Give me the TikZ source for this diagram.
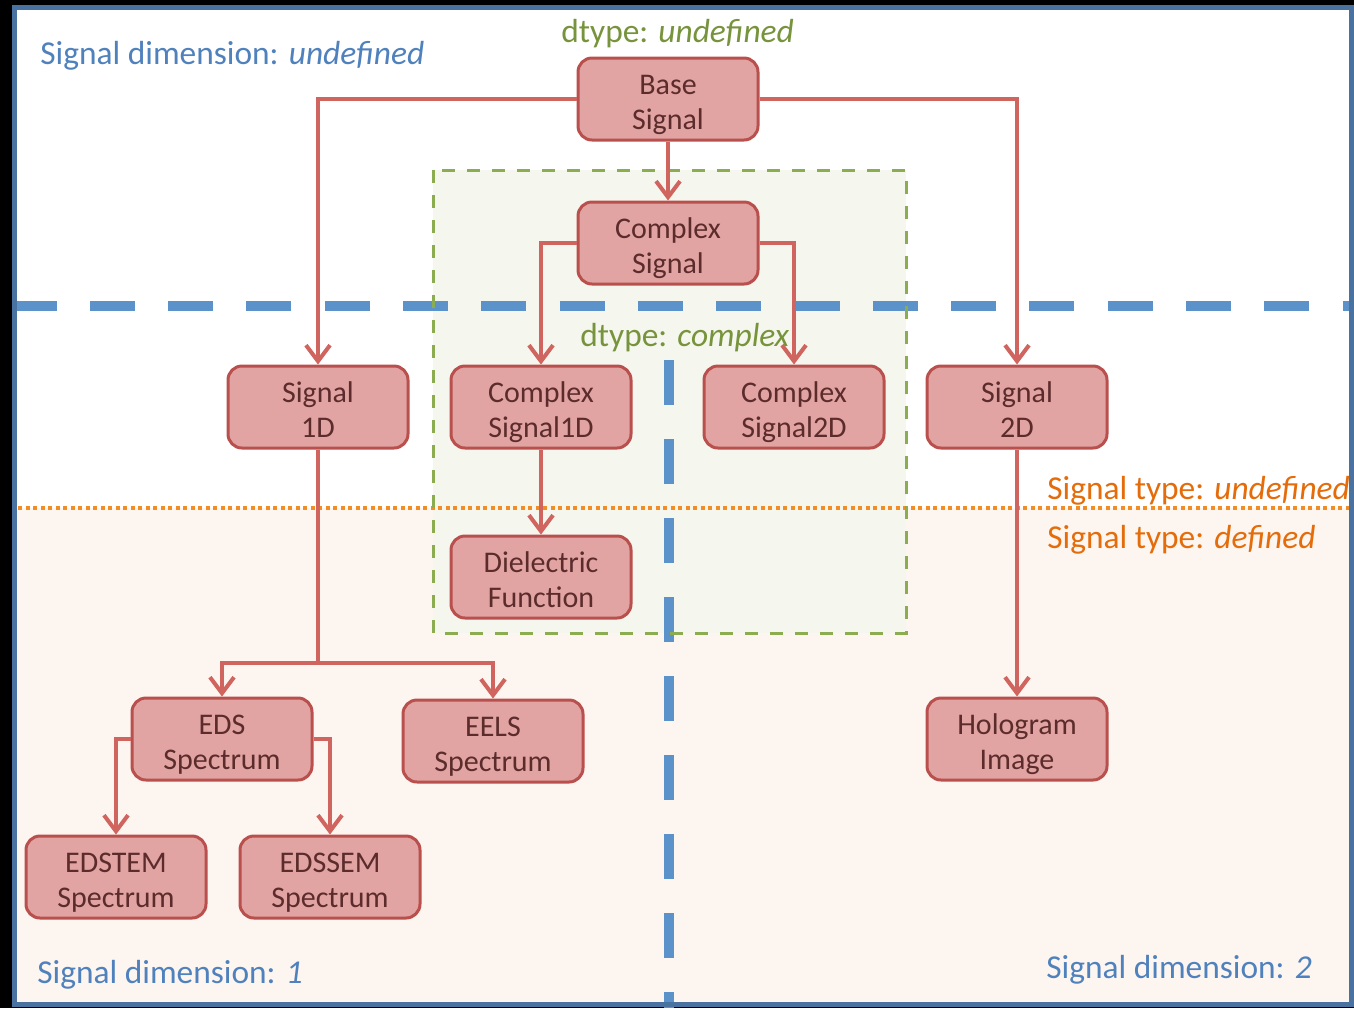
\documentclass[tikz,border=0pt]{standalone}
\usepackage{fontspec}
\setmainfont{Carlito}
\usetikzlibrary{arrows.meta}
\definecolor{frameblue}{RGB}{74,114,160}
\definecolor{dashblue}{RGB}{91,146,201}
\definecolor{dimblue}{RGB}{79,129,189}
\definecolor{dtgreen}{RGB}{119,147,60}
\definecolor{dtline}{RGB}{140,172,80}
\definecolor{dtfill}{RGB}{245,246,237}
\definecolor{peach}{RGB}{253,245,240}
\definecolor{typeorange}{RGB}{228,108,10}
\definecolor{dotorange}{RGB}{242,140,36}
\definecolor{boxfill}{RGB}{225,164,163}
\definecolor{boxline}{RGB}{185,80,77}
\definecolor{boxtext}{RGB}{92,44,44}
\definecolor{linkred}{RGB}{208,100,94}
\begin{document}
\begin{tikzpicture}[
  x=0.5pt,
  y=-0.5pt,
  box/.style={draw=boxline, fill=boxfill, line width=1.5pt, rounded corners=7pt,
    minimum width=90pt, minimum height=41pt, inner sep=0pt, align=center,
    text=boxtext, text height=34pt, text depth=3.2pt, font=\fontsize{15}{17.8}\selectfont},
  link/.style={draw=linkred, line width=2pt, -{Straight Barb[length=8pt,width=12pt]}},
  lab/.style={anchor=base west, inner sep=0pt, font=\fontsize{16.7}{19}\selectfont}
]
\useasboundingbox (0,0) rectangle (1354,1008);
% background and regions
\fill[black] (0,0) rectangle (1354,1008);
\fill[white] (14,8) rectangle (1351,508);
\fill[peach] (14,508) rectangle (1351,1004);
\fill[dtfill] (433,170) rectangle (906,633);
\draw[dotorange, line width=2pt, dash pattern=on 2pt off 1.75pt] (18,508) -- (1350,508);
\draw[dashblue, line width=5pt, dash pattern=on 22.5pt off 16.65pt, dash phase=1.25pt] (14,306) -- (1354,306);
\draw[dashblue, line width=5pt, dash pattern=on 22.5pt off 17pt] (669,360) -- (669,1008);
\draw[dtline, line width=1.5pt, dash pattern=on 6.5pt off 6pt] (433,170) rectangle (906,633);
\draw[frameblue, line width=2.5pt] (14.5,7.5) rectangle (1351,1004.5);

% labels
\node[lab, text=dimblue] (dimundef) at (40,64) {Signal dimension: \textit{undefined}};
\node[lab, text=dtgreen] (dtundef) at (561,42) {dtype: \textit{undefined}};
\node[lab, text=dtgreen] (dtcplx) at (580,346) {dtype: \textit{complex}};
\node[lab, text=typeorange] (typeundef) at (1047,499) {Signal type: \textit{undefined}};
\node[lab, text=typeorange] (typedef) at (1047,548) {Signal type: \textit{defined}};
\node[lab, text=dimblue] (dimone) at (37,983) {Signal dimension: \textit{1}};
\node[lab, text=dimblue] (dimtwo) at (1046,978) {Signal dimension: \textit{2}};

% classes
\node[box] (base) at (668,99) {Base\\Signal};
\node[box] (cplx) at (668,243) {Complex\\Signal};
\node[box] (sig1d) at (318,407) {Signal\\1D};
\node[box] (csig1d) at (541,407) {Complex\\Signal1D};
\node[box] (csig2d) at (794,407) {Complex\\Signal2D};
\node[box] (sig2d) at (1017,407) {Signal\\2D};
\node[box] (dielec) at (541,577) {Dielectric\\Function};
\node[box] (eds) at (222,739) {EDS\\Spectrum};
\node[box] (eels) at (493,741) {EELS\\Spectrum};
\node[box] (holo) at (1017,739) {Hologram\\Image};
\node[box] (edstem) at (116,877) {EDSTEM\\Spectrum};
\node[box] (edssem) at (330,877) {EDSSEM\\Spectrum};

% inheritance
\coordinate (split) at (318,663);
\draw[link] (base.west) -| (sig1d.north);
\draw[link] (base.east) -| (sig2d.north);
\draw[link] (base.south) -- (cplx.north);
\draw[link] (cplx.west) -| (csig1d.north);
\draw[link] (cplx.east) -| (csig2d.north);
\draw[link] (csig1d.south) -- (dielec.north);
\draw[link] (sig2d.south) -- (holo.north);
\draw[linkred, line width=2pt] (sig1d.south) -- (split);
\draw[link] (split) -| (eds.north);
\draw[link] (split) -| (eels.north);
\draw[link] (eds.west) -| (edstem.north);
\draw[link] (eds.east) -| (edssem.north);
\end{tikzpicture}
\end{document}
